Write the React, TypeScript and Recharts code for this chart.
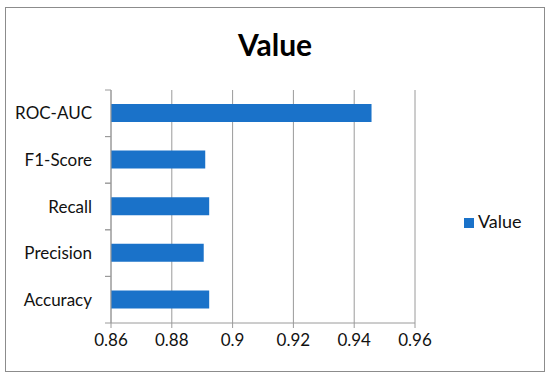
import React from 'react';
import { BarChart, Bar, XAxis, YAxis, CartesianGrid, Legend } from 'recharts';

const metrics = ['ROC-AUC', 'F1-Score', 'Recall', 'Precision', 'Accuracy'];
const values = [0.9457, 0.891, 0.8923, 0.8905, 0.8923];
const xTicks = [0.86, 0.88, 0.9, 0.92, 0.94, 0.96];

const data = metrics.map((name, i) => ({ name, Value: values[i] }));

const FONT = 'Lato, "Liberation Sans", sans-serif';
const GRID = '#9a9a9a';

// category label plus the small marks on the band edges (Excel style)
const CategoryTick = (props: any) => {
  const { x, y, payload } = props;
  const half = payload && payload.offset ? payload.offset : 0;
  const lx1 = x + 13;
  const lx2 = x + 19;
  return (
    <g>
      <text x={x} y={y} dy={6} textAnchor="end" fill="#111" fontSize={17} fontFamily={FONT}>
        {payload.value}
      </text>
      {half > 0 && (
        <>
          <line x1={lx1} x2={lx2} y1={y - half} y2={y - half} stroke={GRID} />
          <line x1={lx1} x2={lx2} y1={y + half} y2={y + half} stroke={GRID} />
        </>
      )}
    </g>
  );
};

export default function App() {
  return (
    <div style={{ position: 'absolute', left: 0, top: 0, width: 550, height: 377, background: '#fff' }}>
      <div
        style={{
          position: 'absolute',
          left: 5,
          top: 7,
          width: 538,
          height: 363,
          border: '1px solid #8c8c8c',
        }}
      />
      <div
        style={{
          position: 'absolute',
          left: 0,
          width: 550,
          top: 26,
          textAlign: 'center',
          fontFamily: FONT,
          fontWeight: 700,
          fontSize: 30,
          color: '#000',
          lineHeight: '36px',
        }}
      >
        Value
      </div>
      <div style={{ position: 'absolute', left: 0, top: 0 }}>
        <BarChart
          width={550}
          height={377}
          data={data}
          layout="vertical"
          margin={{ top: 90, right: 55, bottom: 0, left: 0 }}
        >
          <CartesianGrid horizontal={false} stroke={GRID} />
          <XAxis
            type="number"
            domain={[0.86, 0.96]}
            ticks={xTicks}
            allowDataOverflow
            height={54}
            tickSize={5}
            tickMargin={6}
            axisLine={{ stroke: GRID }}
            tickLine={{ stroke: GRID }}
            tick={{ fill: '#111', fontSize: 17, fontFamily: FONT }}
          />
          <YAxis
            type="category"
            dataKey="name"
            width={111}
            tickSize={6}
            tickMargin={13}
            tickLine={false}
            axisLine={{ stroke: GRID }}
            tick={<CategoryTick />}
            interval={0}
          />
          <Legend
            layout="vertical"
            align="right"
            verticalAlign="middle"
            iconType="square"
            iconSize={10}
            wrapperStyle={{ left: 464, top: 210, width: 80, fontFamily: FONT, fontSize: 18 }}
            formatter={(v: string) => <span style={{ color: '#111' }}>{v}</span>}
          />
          <Bar dataKey="Value" fill="#1a72c9" barSize={18} isAnimationActive={false} />
        </BarChart>
      </div>
    </div>
  );
}
